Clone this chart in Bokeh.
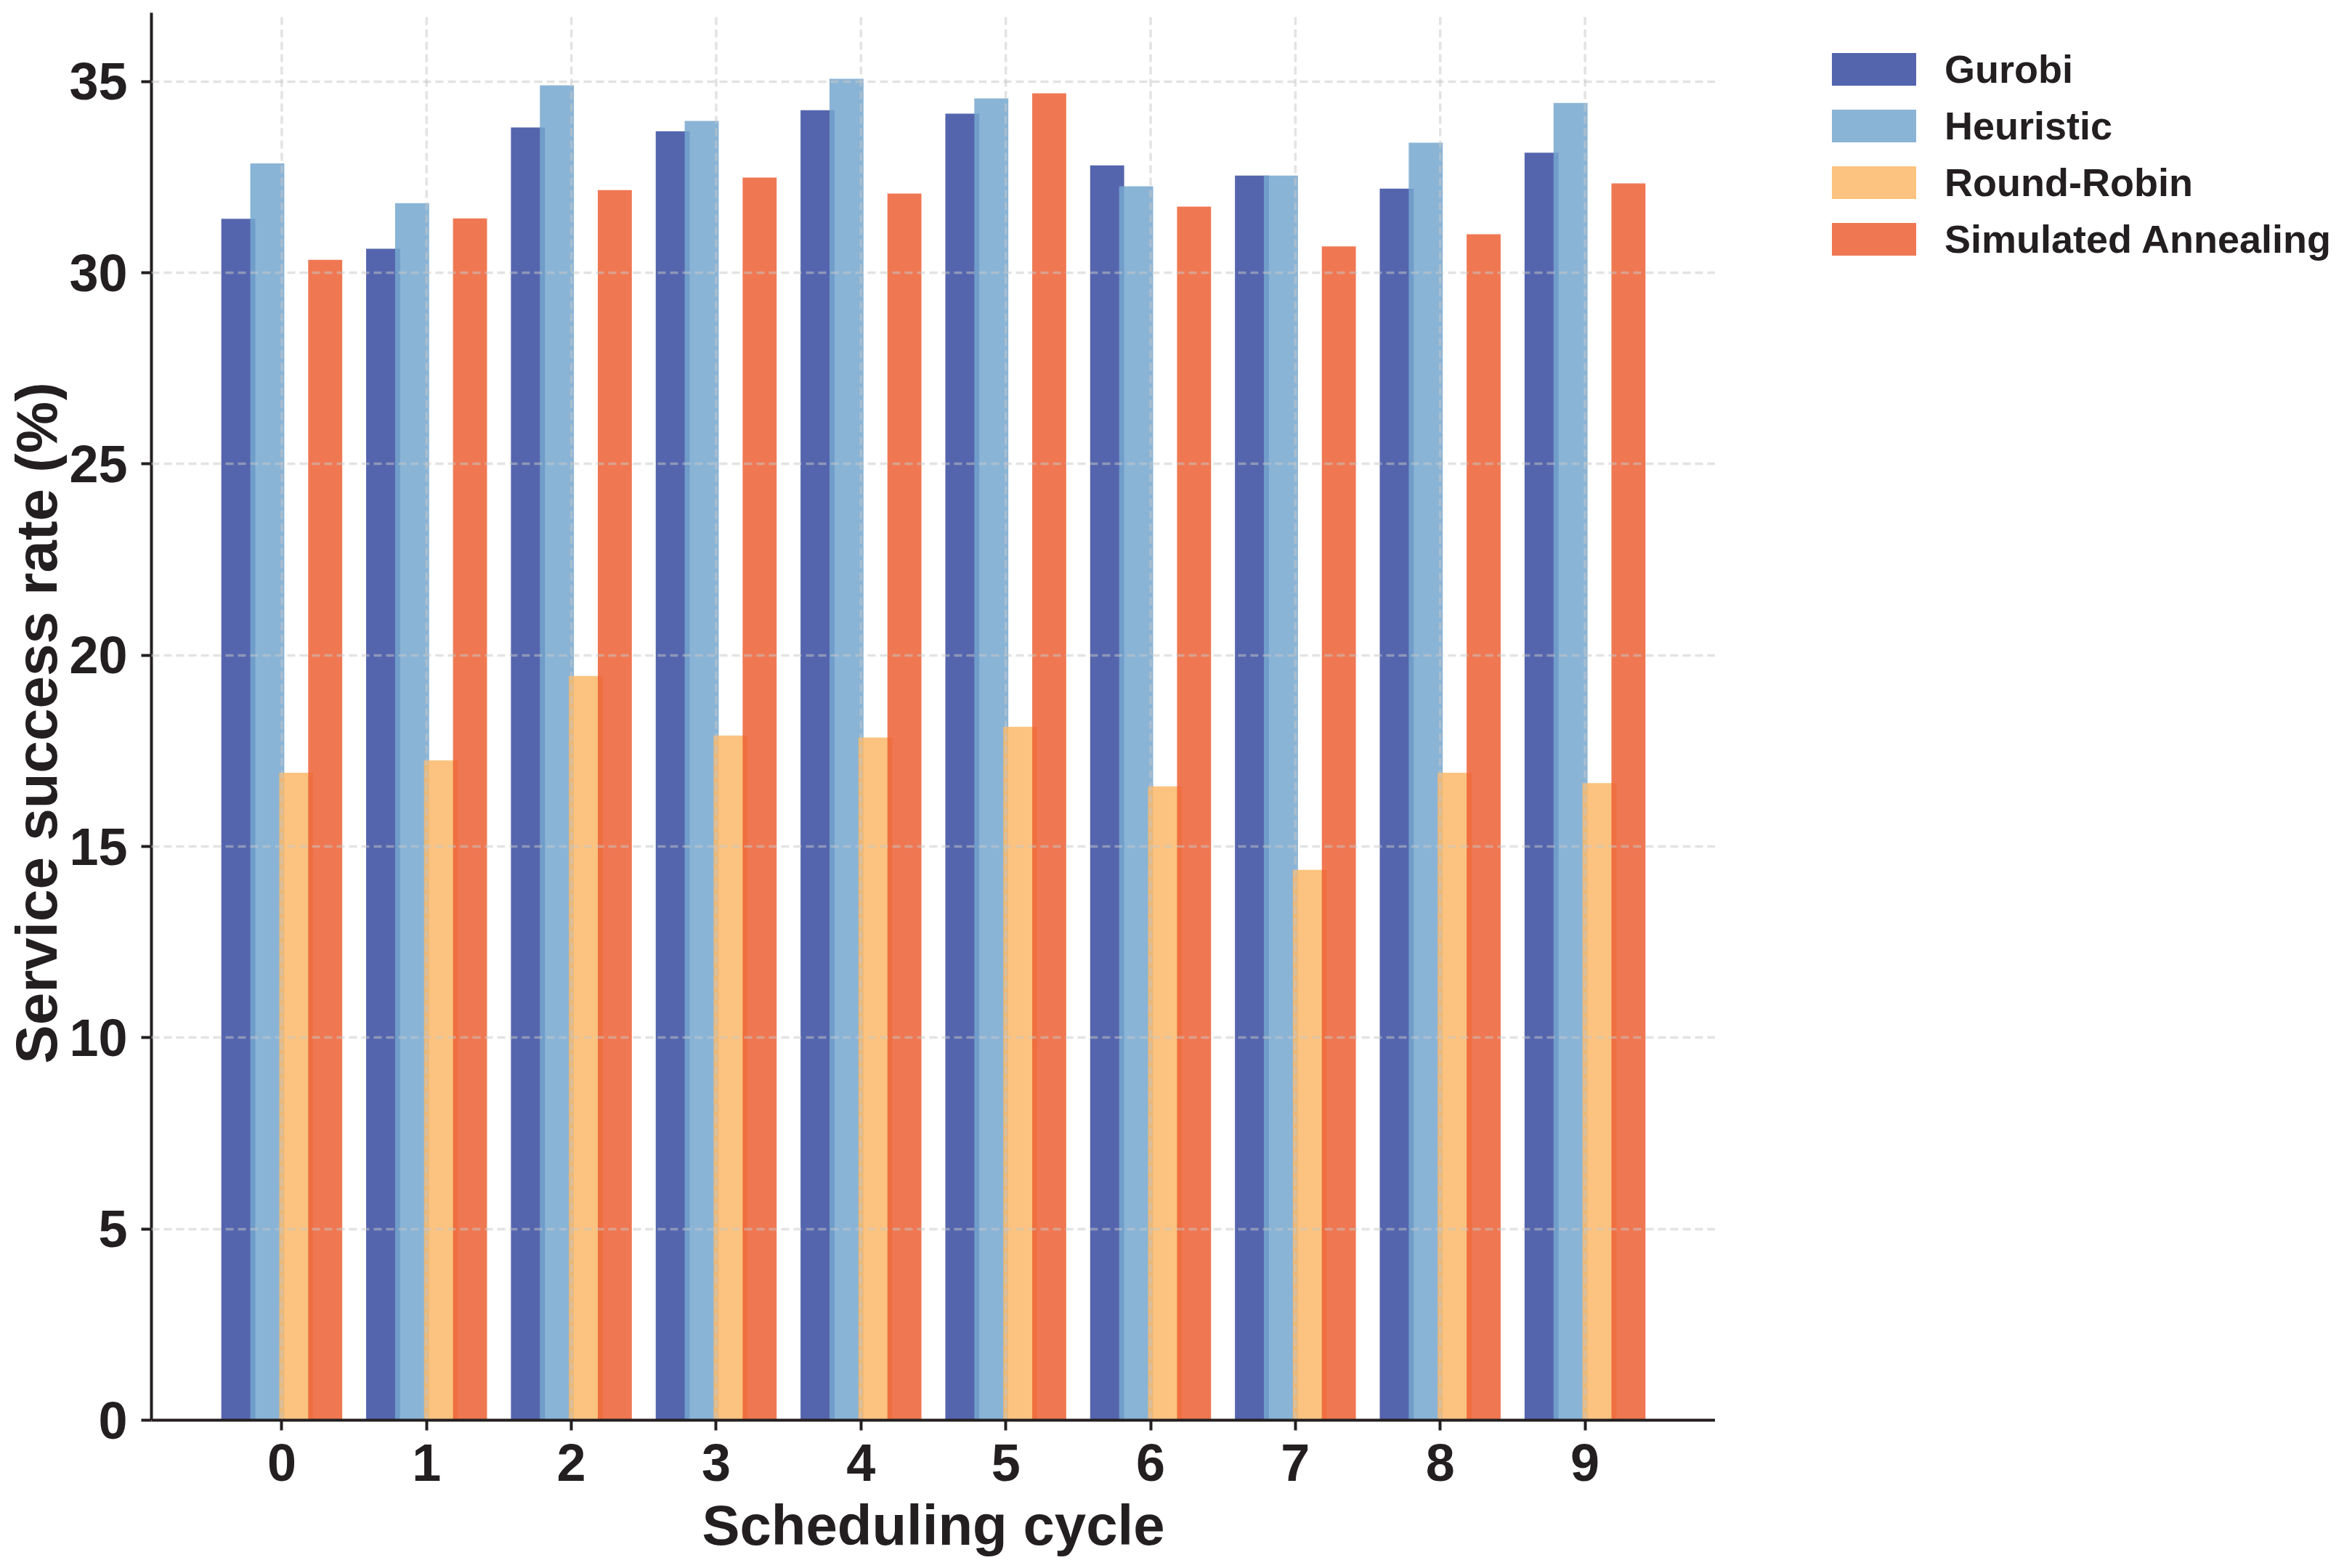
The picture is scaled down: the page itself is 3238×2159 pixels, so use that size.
from bokeh.plotting import figure
from bokeh.layouts import row
from bokeh.models import Range1d, FixedTicker, Legend, LegendItem, ColumnDataSource, Label
from bokeh.transform import dodge
from bokeh.embed import file_html
from bokeh.resources import INLINE

# ---- data ----
cycles = [0, 1, 2, 3, 4, 5, 6, 7, 8, 9]
series_names = ["Gurobi", "Heuristic", "Round-Robin", "Simulated Annealing"]
gurobi = [31.41, 30.63, 33.80, 33.70, 34.25, 34.16, 32.81, 32.54, 32.20, 33.14]
heuristic = [32.86, 31.82, 34.90, 33.97, 35.07, 34.56, 32.26, 32.54, 33.40, 34.44]
round_robin = [16.93, 17.25, 19.46, 17.90, 17.85, 18.13, 16.57, 14.39, 16.93, 16.66]
simulated_annealing = [30.34, 31.42, 32.16, 32.49, 32.07, 34.69, 31.73, 30.69, 31.01, 32.34]
y_ticks = [0, 5, 10, 15, 20, 25, 30, 35]
x_title = "Scheduling cycle"
y_title = "Service success rate (%)"

# ---- styling ----
colors = ["#374A9F", "#75A7CF", "#FAB968", "#EC6035"]
offsets = [-0.3, -0.1, 0.1, 0.3]
keys = ["gurobi", "heuristic", "round_robin", "simulated_annealing"]
TEXT = "#231f20"
FONT = "Liberation Sans"
GRID = dict(line_color="#c8c8c8", line_alpha=0.5, line_width=3.5, line_dash="11 6")

H = 2143                    # canvas height
TITLE_W = 92                # strip holding the y-axis title
MAIN_W, LEG_W = 2361 - TITLE_W, 859
FL, FT, Y0 = 208, 17, 1955  # frame left, frame top, pixel row of y = 0
X_LO, X_HI, Y_TOP = -0.9, 9.9, 36.8
y_lo = -(H - Y0) * Y_TOP / (Y0 - FT)   # range extends below 0 to leave room for tick labels
px_per_unit = (Y0 - FT) / Y_TOP

source = ColumnDataSource(dict(x=cycles, gurobi=gurobi, heuristic=heuristic,
                               round_robin=round_robin,
                               simulated_annealing=simulated_annealing))

y_range = Range1d(y_lo, Y_TOP)
p = figure(width=MAIN_W, height=H, output_backend="svg", toolbar_location=None,
           x_range=Range1d(X_LO, X_HI), y_range=y_range,
           min_border_left=FL - TITLE_W, min_border_right=0, min_border_top=FT,
           min_border_bottom=0)
p.outline_line_color = None
p.background_fill_color = "white"

for key, off, col in zip(keys, offsets, colors):
    p.vbar(x=dodge("x", off), top=key, width=0.235, bottom=0, source=source,
           fill_color=col, fill_alpha=0.85, line_color=None)

# vertical dashed grid lines at each cycle (from 0 up to the top), above the bars
p.segment(x0="x", x1="x", y0=0, y1=Y_TOP, source=source, **GRID)

# axes
for ax in (p.xaxis[0], p.yaxis[0]):
    ax.axis_line_width = 4
    ax.axis_line_color = TEXT
    ax.major_tick_line_width = 4
    ax.major_tick_line_color = TEXT
    ax.major_tick_in = 0
    ax.major_tick_out = 14
    ax.minor_tick_line_color = None
    ax.major_label_text_font = FONT
    ax.major_label_text_font_style = "bold"
    ax.major_label_text_font_size = "72px"
    ax.major_label_text_color = TEXT
    ax.axis_label_text_font = FONT
    ax.axis_label_text_font_style = "bold"
    ax.axis_label_text_font_size = "78px"
    ax.axis_label_text_color = TEXT

p.xaxis.fixed_location = 0
p.xaxis.ticker = FixedTicker(ticks=cycles)
p.xaxis.axis_label = x_title
p.xaxis.major_label_standoff = 19
p.xaxis.axis_label_standoff = 14

p.yaxis.ticker = FixedTicker(ticks=y_ticks)
p.yaxis.bounds = (0, Y_TOP)
p.yaxis.major_label_standoff = 19

p.xgrid.visible = False
p.ygrid.ticker = FixedTicker(ticks=[t for t in y_ticks if t > 0])
g = p.ygrid[0]
g.grid_line_color = GRID["line_color"]
g.grid_line_alpha = GRID["line_alpha"]
g.grid_line_width = GRID["line_width"]
g.grid_line_dash = GRID["line_dash"]
g.level = "overlay"

# ---- y-axis title strip on the left (shares the y range, centred on 0..top) ----
pt = figure(width=TITLE_W, height=H, output_backend="svg", toolbar_location=None,
            x_range=Range1d(0, 1), y_range=y_range,
            x_axis_location=None, y_axis_location=None,
            min_border_left=0, min_border_right=0, min_border_top=FT,
            min_border_bottom=0)
pt.outline_line_color = None
pt.grid.visible = False
pt.add_layout(Label(x=50, y=Y_TOP / 2 - 9 / px_per_unit, x_units="screen", y_units="data",
                    angle=90, angle_units="deg", text=y_title,
                    text_align="center", text_baseline="alphabetic",
                    text_font=FONT, text_font_style="bold",
                    text_font_size="80px", text_color=TEXT))

# ---- legend panel to the right (its renderers share the data but lie out of view) ----
LEG_MARGIN = 47
pl = figure(width=LEG_W, height=H, output_backend="svg", toolbar_location=None,
            x_range=Range1d(100, 101), y_range=Range1d(100, 101),
            x_axis_location=None, y_axis_location=None,
            min_border_left=99, min_border_top=FT, min_border_right=0,
            min_border_bottom=0)
pl.outline_line_color = None
pl.grid.visible = False
leg_renderers = [pl.vbar(x=dodge("x", off), top=key, width=0.235, source=source,
                         fill_color=col, fill_alpha=0.85, line_color=None)
                 for key, off, col in zip(keys, offsets, colors)]
legend = Legend(items=[LegendItem(label=n, renderers=[r]) for n, r in zip(series_names, leg_renderers)],
                location="top_left", orientation="vertical",
                border_line_color=None, background_fill_alpha=0,
                padding=0, margin=LEG_MARGIN, spacing=16,
                glyph_width=145, glyph_height=56, label_standoff=25,
                label_text_font=FONT, label_text_font_style="bold",
                label_text_font_size="54px", label_text_color=TEXT)
pl.add_layout(legend)

layout = row(pt, p, pl)
open("out.html", "w").write(file_html(layout, INLINE))
